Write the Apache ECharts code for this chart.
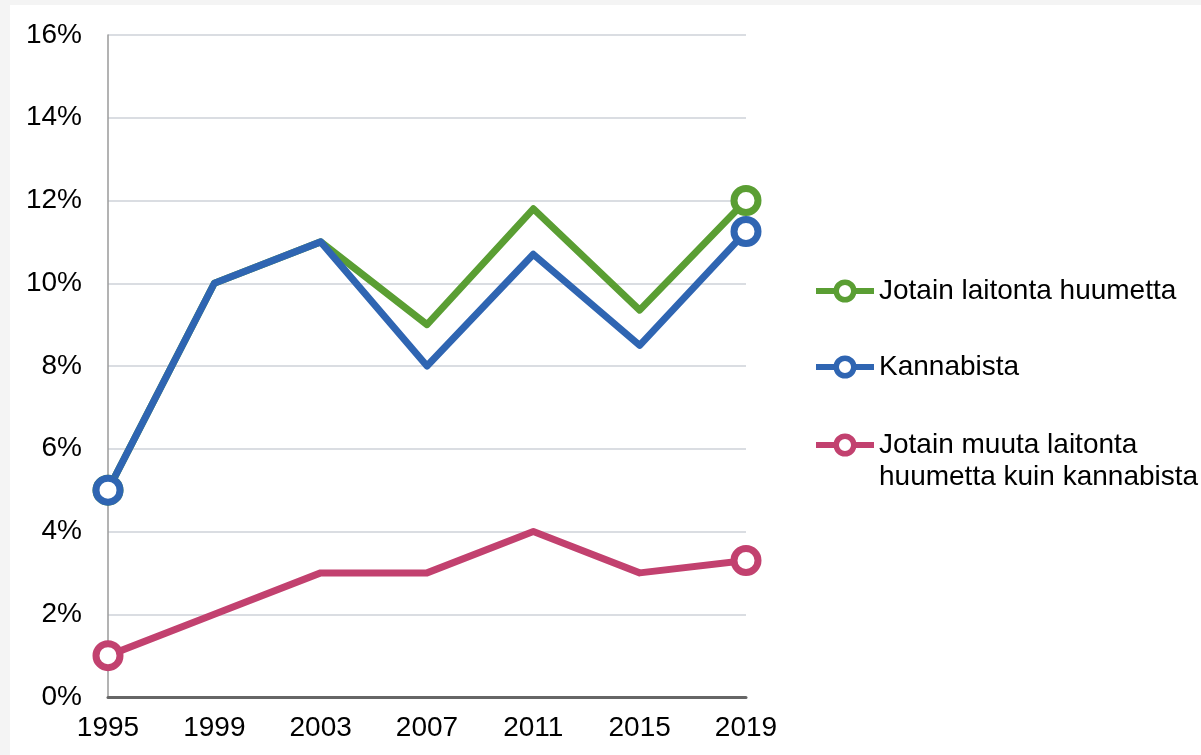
<!DOCTYPE html>
<html>
<head>
<meta charset="utf-8">
<script src="https://cdn.jsdelivr.net/npm/echarts@6/dist/echarts.min.js"></script>
<style>
  html, body { margin: 0; padding: 0; background: #f4f4f4; }
  #chart { position: absolute; left: 10px; top: 5px; width: 1191px; height: 750px; background: #fff; }
</style>
</head>
<body>
<div id="chart"></div>
<script>
'use strict';
// Huumekokeilut 1995–2019 — three line series, endpoint markers only

const YEARS = ['1995', '1999', '2003', '2007', '2011', '2015', '2019'];
const ANY_DRUG = [5, 10, 11, 9, 11.8, 9.35, 12];
const CANNABIS = [5, 10, 11, 8, 10.7, 8.5, 11.25];
const OTHER_DRUG = [1, 2, 3, 3, 4, 3, 3.3];
const NAMES = ['Jotain laitonta huumetta', 'Kannabista', 'Jotain muuta laitonta\nhuumetta kuin kannabista'];
const COLORS = ['#5a9e33', '#2f65b2', '#c2416f'];

const FONT = "'Liberation Sans', Arial, sans-serif";

function el(id) { return document.getElementById(id); }

// only first and last point carry a marker
function endpoints(arr) {
  return arr.map((v, i) => (i === 0 || i === arr.length - 1) ? { value: v } : { value: v, symbol: 'none' });
}

function mkSeries(name, data, color) {
  return {
    name, type: 'line', data: endpoints(data),
    symbol: 'circle', symbolSize: 24,
    itemStyle: { color: '#fff', borderColor: color, borderWidth: 7 },
    lineStyle: { color, width: 7, join: 'round' },
    emphasis: { disabled: true }
  };
}

function mkLegend(name, top, label) {
  return {
    data: [name], orient: 'vertical', left: 803, top, padding: 0,
    itemWidth: 58, itemHeight: 22, itemGap: 0,
    formatter: () => label,
    lineStyle: { width: 6 },
    itemStyle: { borderWidth: 5.5 },
    selectedMode: false,
    textStyle: { fontFamily: FONT, fontSize: 28, color: '#000', lineHeight: 32, padding: [0, 0, 0, 0] }
  };
}

const ch = echarts.init(el('chart'));
ch.setOption({
  animation: false,
  textStyle: { fontFamily: FONT },
  grid: { left: 98, right: 455, top: 30, bottom: 58 },
  legend: [
    mkLegend(NAMES[0], 270, NAMES[0]),
    mkLegend(NAMES[1], 346, NAMES[1]),
    // leading blank line keeps the icon on the first text line
    mkLegend(NAMES[2], 392, '\n' + NAMES[2])
  ],
  xAxis: {
    type: 'category', data: YEARS, boundaryGap: false,
    axisLine: { lineStyle: { color: '#666', width: 3 } },
    axisTick: { show: false },
    axisLabel: { color: '#000', fontFamily: FONT, fontSize: 28, margin: 17 }
  },
  yAxis: {
    type: 'value', min: 0, max: 16, interval: 2,
    axisLine: { show: true, lineStyle: { color: '#9a9a9a', width: 1.5 } },
    axisTick: { show: false },
    axisLabel: { color: '#000', fontFamily: FONT, fontSize: 28, margin: 26, formatter: '{value}%' },
    splitLine: { lineStyle: { color: '#dadde2', width: 2 } }
  },
  series: [
    mkSeries(NAMES[0], ANY_DRUG, COLORS[0]),
    mkSeries(NAMES[1], CANNABIS, COLORS[1]),
    mkSeries(NAMES[2], OTHER_DRUG, COLORS[2])
  ]
});
</script>
</body>
</html>
